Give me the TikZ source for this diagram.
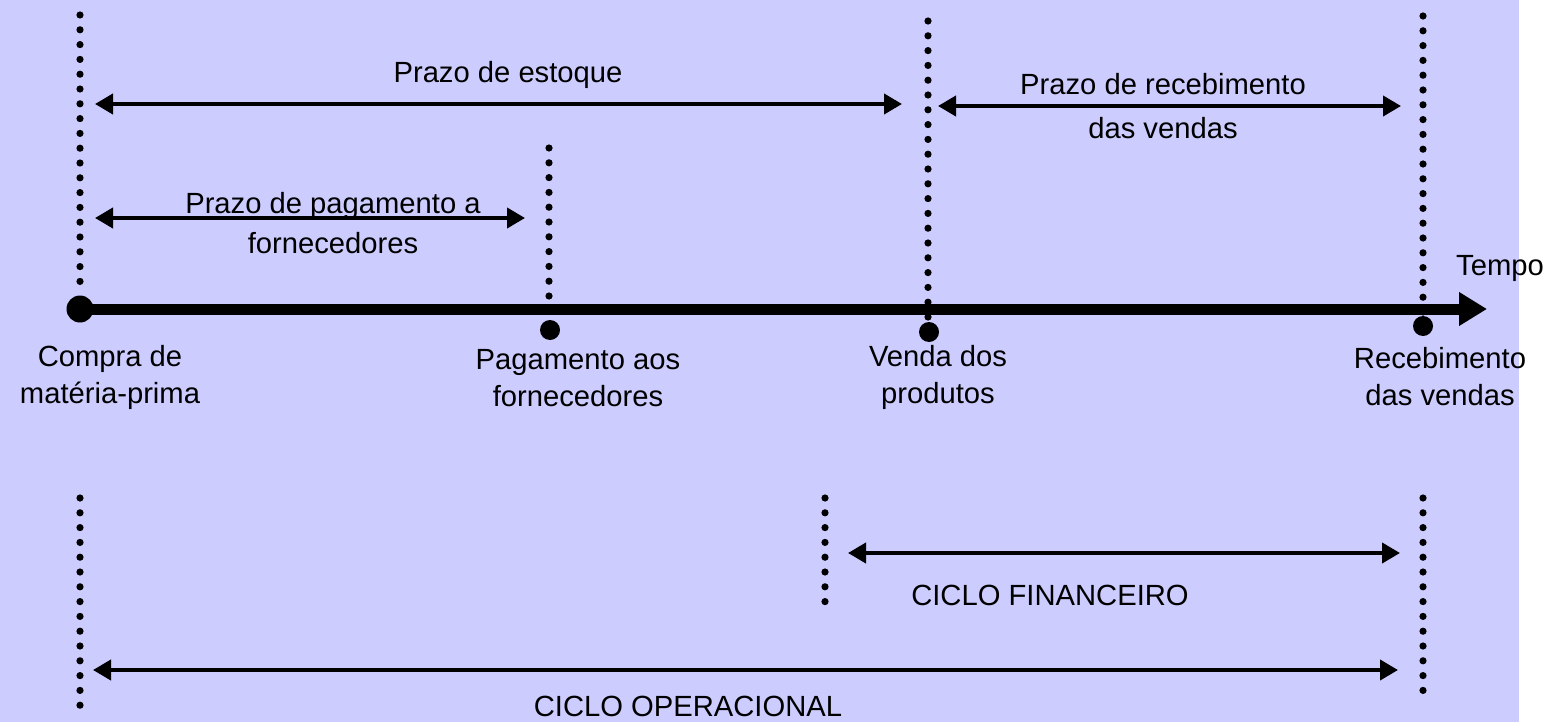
\documentclass[tikz,border=0pt]{standalone}
\usepackage{fontspec}
\setmainfont{Liberation Sans}
\usetikzlibrary{arrows.meta, positioning}
\definecolor{lavanda}{RGB}{204,204,255}
\tikzset{
  guia/.style={
    line width=3.6pt,
    dash pattern=on 0pt off 7.4pt,
    line cap=round
  },
  prazo/.style={
    line width=2pt,
    {Triangle[length=9pt,width=10pt]}-{Triangle[length=9pt,width=10pt]}
  },
  eixo/.style={
    line width=5.5pt,
    -{Triangle[length=14pt,width=16pt]}
  },
  marco/.style={circle, fill=black, inner sep=0pt, minimum size=10pt},
  rotulo/.style={
    align=center, inner sep=0pt,
    font=\fontsize{14.6}{18.5}\selectfont
  }
}

\begin{document}
\begin{tikzpicture}[x=0.5pt, y=-0.5pt]
  \fill[lavanda] (0,0) rectangle (1519,722);
  \useasboundingbox (0,0) rectangle (1562,722);

  % linhas-guia superiores
  \coordinate (ga1) at (80,15);   \coordinate (ga2) at (80,290);
  \coordinate (gb1) at (549,148); \coordinate (gb2) at (549,318);
  \coordinate (gc1) at (928,21);  \coordinate (gc2) at (928,321);
  \coordinate (gd1) at (1423,16); \coordinate (gd2) at (1423,316);
  \draw[guia] (ga1) -- (ga2);
  \draw[guia] (gb1) -- (gb2);
  \draw[guia] (gc1) -- (gc2);
  \draw[guia] (gd1) -- (gd2);

  % linhas-guia inferiores
  \coordinate (ge1) at (80,498);   \coordinate (ge2) at (80,707);
  \coordinate (gf1) at (825,498);  \coordinate (gf2) at (825,602);
  \coordinate (gg1) at (1423,498); \coordinate (gg2) at (1423,703);
  \draw[guia] (ge1) -- (ge2);
  \draw[guia] (gf1) -- (gf2);
  \draw[guia] (gg1) -- (gg2);

  % eixo do tempo
  \coordinate (fim) at (1487,309);
  \node[marco, minimum size=13.5pt] (compra) at (80,309) {};
  \draw[eixo] (compra.center) -- (fim);
  \node[rotulo] (tempo) at (1500,268) {Tempo};
  \node[marco] (pagto) at (550,330) {};
  \node[marco] (venda) at (929,332) {};
  \node[marco] (receb) at (1423,326) {};

  \node[rotulo] (compra-l) at (110,377) {Compra de\\matéria-prima};
  \node[rotulo] (pagto-l) at (578,378) {Pagamento aos\\fornecedores};
  \node[rotulo] (venda-l) at (938,377) {Venda dos\\produtos};
  \node[rotulo] (receb-l) at (1440,377) {Recebimento\\das vendas};

  % prazos
  \coordinate (pe1) at (95,104);  \coordinate (pe2) at (902,104);
  \coordinate (pr1) at (938,106); \coordinate (pr2) at (1401,106);
  \coordinate (pp1) at (95,218);  \coordinate (pp2) at (525,218);
  \draw[prazo] (pe1) -- (pe2);
  \draw[prazo] (pr1) -- (pr2);
  \draw[prazo] (pp1) -- (pp2);
  \node[rotulo] (estoque) at (508,75) {Prazo de estoque};
  \node[rotulo, font=\fontsize{14.6}{22}\selectfont] (recebimento) at (1163,106) {Prazo de recebimento\\das vendas};
  \node[rotulo, font=\fontsize{14.6}{20}\selectfont] (pagamento) at (333,223) {Prazo de pagamento a\\fornecedores};

  % ciclos
  \coordinate (cf1) at (848,553); \coordinate (cf2) at (1400,553);
  \coordinate (co1) at (93,670);  \coordinate (co2) at (1398,670);
  \draw[prazo] (cf1) -- (cf2);
  \draw[prazo] (co1) -- (co2);
  \node[rotulo] (financeiro) at (1050,595) {CICLO FINANCEIRO};
  \node[rotulo] (operacional) at (688,706) {CICLO OPERACIONAL};
\end{tikzpicture}
\end{document}
